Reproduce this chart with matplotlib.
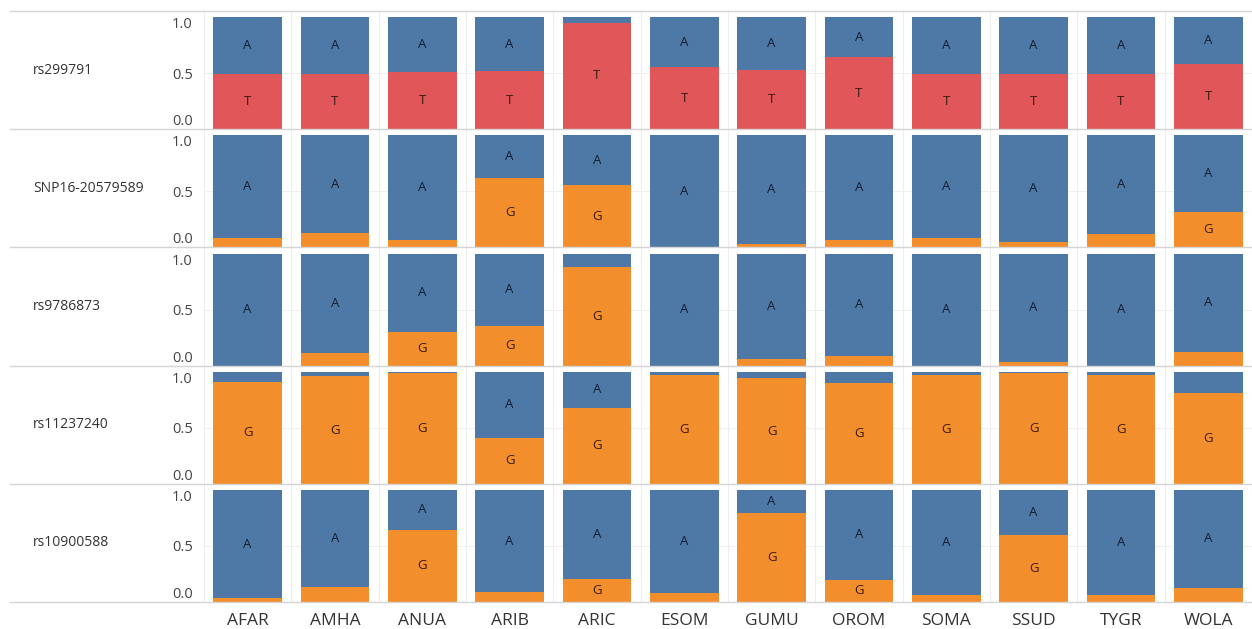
import matplotlib.pyplot as plt
from matplotlib.lines import Line2D
import numpy as np

plt.rcParams['font.family'] = ['Open Sans', 'DejaVu Sans']

pops = ['AFAR', 'AMHA', 'ANUA', 'ARIB', 'ARIC', 'ESOM', 'GUMU', 'OROM', 'SOMA', 'SSUD', 'TYGR', 'WOLA']
snps = ['rs299791', 'SNP16-20579589', 'rs9786873', 'rs11237240', 'rs10900588']
low_allele = ['T', 'G', 'G', 'G', 'G']

# frequency of the lower allele (T or G); A makes up the rest
rs299791 = [0.49, 0.49, 0.51, 0.52, 0.95, 0.555, 0.53, 0.64, 0.49, 0.49, 0.49, 0.58]
snp16 = [0.085, 0.13, 0.065, 0.62, 0.56, 0.0, 0.03, 0.065, 0.085, 0.045, 0.12, 0.315]
rs9786873 = [0.0, 0.11, 0.30, 0.35, 0.88, 0.0, 0.055, 0.09, 0.0, 0.035, 0.0, 0.12]
rs11237240 = [0.91, 0.96, 0.985, 0.41, 0.68, 0.97, 0.94, 0.90, 0.97, 0.99, 0.97, 0.81]
rs10900588 = [0.035, 0.13, 0.645, 0.085, 0.205, 0.08, 0.79, 0.20, 0.06, 0.595, 0.06, 0.125]
low_freqs = [rs299791, snp16, rs9786873, rs11237240, rs10900588]

blue = '#4e79a7'
red = '#e15759'
orange = '#f28e2b'

W, H = 1252, 629
fig = plt.figure(figsize=(W / 100, H / 100), dpi=100)

left_px, right_px = 204, 1252
top_px, row_h = 11, 118.2
x = np.arange(len(pops))

for k, snp in enumerate(snps):
    y0 = top_px + row_h * k
    ax = fig.add_axes([left_px / W, 1 - (y0 + row_h) / H, (right_px - left_px) / W, row_h / H])
    low = np.array(low_freqs[k])
    high = 1 - low
    c_low = red if low_allele[k] == 'T' else orange
    ax.bar(x, low, width=0.79, color=c_low, zorder=2)
    ax.bar(x, high, bottom=low, width=0.79, color=blue, zorder=2)
    for i in range(len(pops)):
        if low[i] >= 0.2:
            ax.text(x[i], low[i] / 2, low_allele[k], ha='center', va='center',
                    fontsize=9.5, color='#3a1a10', zorder=3)
        if high[i] >= 0.2:
            ax.text(x[i], low[i] + high[i] / 2, 'A', ha='center', va='center',
                    fontsize=9.5, color='#141e30', zorder=3)
    ax.set_xlim(-0.5, len(pops) - 0.5)
    ax.set_ylim(0, 1.055)
    ax.set_yticks([0, 0.5, 1.0])
    labs = ax.set_yticklabels(['0.0', '0.5', '1.0'], fontsize=10.5, color='#444444')
    labs[0].set_va('bottom')
    labs[2].set_va('top')
    ax.tick_params(axis='y', length=0, pad=8)
    ax.tick_params(axis='x', length=0)
    for i in range(len(pops) + 1):
        ax.axvline(i - 0.5, color='#eeeeee', lw=0.8, zorder=0)
    ax.axhline(0.5, color='#f0f0f0', lw=0.8, zorder=0)
    for s in ax.spines.values():
        s.set_visible(False)
    if k == len(snps) - 1:
        ax.set_xticks(x)
        ax.set_xticklabels(pops, fontsize=12.5, color='#333333')
        ax.tick_params(axis='x', pad=8)
    else:
        ax.set_xticks([])
    fig.text(33 / W, 1 - (y0 + row_h / 2) / H, snp, ha='left', va='center',
             fontsize=10, color='#333333')

# row borders
for k in range(len(snps) + 1):
    yb = 1 - (top_px + row_h * k) / H
    fig.add_artist(Line2D([10 / W, 1], [yb, yb], color='#d4d4d4', lw=1))

fig.savefig('out.png', dpi=100)
